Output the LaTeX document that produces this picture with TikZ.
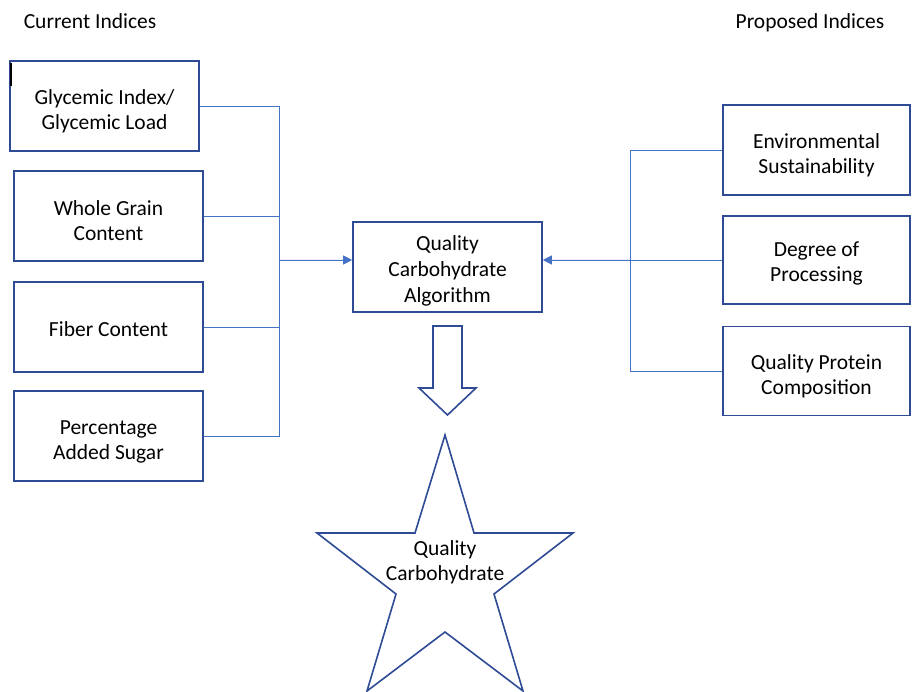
\documentclass[tikz,border=0pt]{standalone}
\usepackage{fontspec}
\setmainfont{Carlito}
\usetikzlibrary{arrows.meta}
\definecolor{boxblue}{HTML}{2F4B96}
\definecolor{lineblue}{HTML}{4472C4}
\begin{document}
\begin{tikzpicture}[x=1pt,y=-1pt,
  every node/.style={font=\fontsize{21.5pt}{25pt}\selectfont, align=center, text=black},
  ibox/.style={draw=boxblue, line width=1.6pt, rectangle, minimum width=189pt, minimum height=90pt, inner sep=0pt},
  conn/.style={draw=lineblue, line width=0.9pt},
  tip/.style={conn, -{Triangle[length=9pt,width=9pt]}, fill=lineblue}]
\useasboundingbox (0,0) rectangle (912,692);
\fill[white] (0,0) rectangle (912,692);
% titles
\node (tl) at (90,21) {Current Indices};
\node (tr) at (810,23) {Proposed Indices};
% left boxes
\node[ibox] (b1) at (104.5,106) {};
\node[yshift=-5pt] (b1t) at (b1) {Glycemic Index/\\Glycemic Load};
\node[ibox] (b2) at (108.5,216) {};
\node[yshift=-5pt] (b2t) at (b2) {Whole Grain\\Content};
\node[ibox] (b3) at (108.5,327) {};
\node[yshift=-2pt] (b3t) at (b3) {Fiber Content};
\node[ibox] (b4) at (108.5,436) {};
\node[yshift=-6pt] (b4t) at (b4) {Percentage\\Added Sugar};
% cursor mark
\draw[black, line width=1.2pt] (11,63) -- (11,86);
% center box
\node[ibox] (q) at (447.5,267) {};
\node[yshift=-4pt, font=\fontsize{21.5pt}{26pt}\selectfont] (qt) at (q) {Quality\\Carbohydrate\\Algorithm};
% right boxes
\node[ibox, minimum width=187pt] (r1) at (816.5,150) {};
\node[yshift=-5pt] (r1t) at (r1) {Environmental\\Sustainability};
\node[ibox, minimum width=187pt, minimum height=88pt] (r2) at (816.5,260) {};
\node[yshift=-3pt] (r2t) at (r2) {Degree of\\Processing};
\node[ibox, minimum width=187pt, minimum height=89pt] (r3) at (816.5,371) {};
\node[yshift=-5pt] (r3t) at (r3) {Quality Protein\\Composition};
% left bus
\coordinate (lb) at (279,260);
\coordinate (rb) at (630,260);
\draw[conn] (b1.east) -- (b1.east -| lb) -- (b4.east -| lb) -- (b4.east);
\draw[conn] (b2.east) -- (b2.east -| lb);
\draw[conn] (b3.east) -- (b3.east -| lb);
\draw[tip] (lb) -- ([yshift=7pt]q.west);
% right bus
\draw[conn] (r1.west) -- (r1.west -| rb) -- (r3.west -| rb) -- (r3.west);
\draw[conn] (r2.west) -- (r2.west -| rb);
\draw[tip] (rb) -- ([yshift=7pt]q.east);
% block arrow
\draw[boxblue, line width=1.6pt, line join=miter] (433,326) -- (462,326) -- (462,388) -- (476,388) -- (447.5,415) -- (419,388) -- (433,388) -- cycle;
% star
\draw[boxblue, line width=1.6pt, line join=miter] (445,435) -- (474,533) -- (573,533) -- (494,594) -- (523,691) -- (445,632) -- (367,691) -- (396,594) -- (317,533) -- (415,533) -- cycle;
\node (st) at (445,562) {Quality\\Carbohydrate};
\end{tikzpicture}
\end{document}
